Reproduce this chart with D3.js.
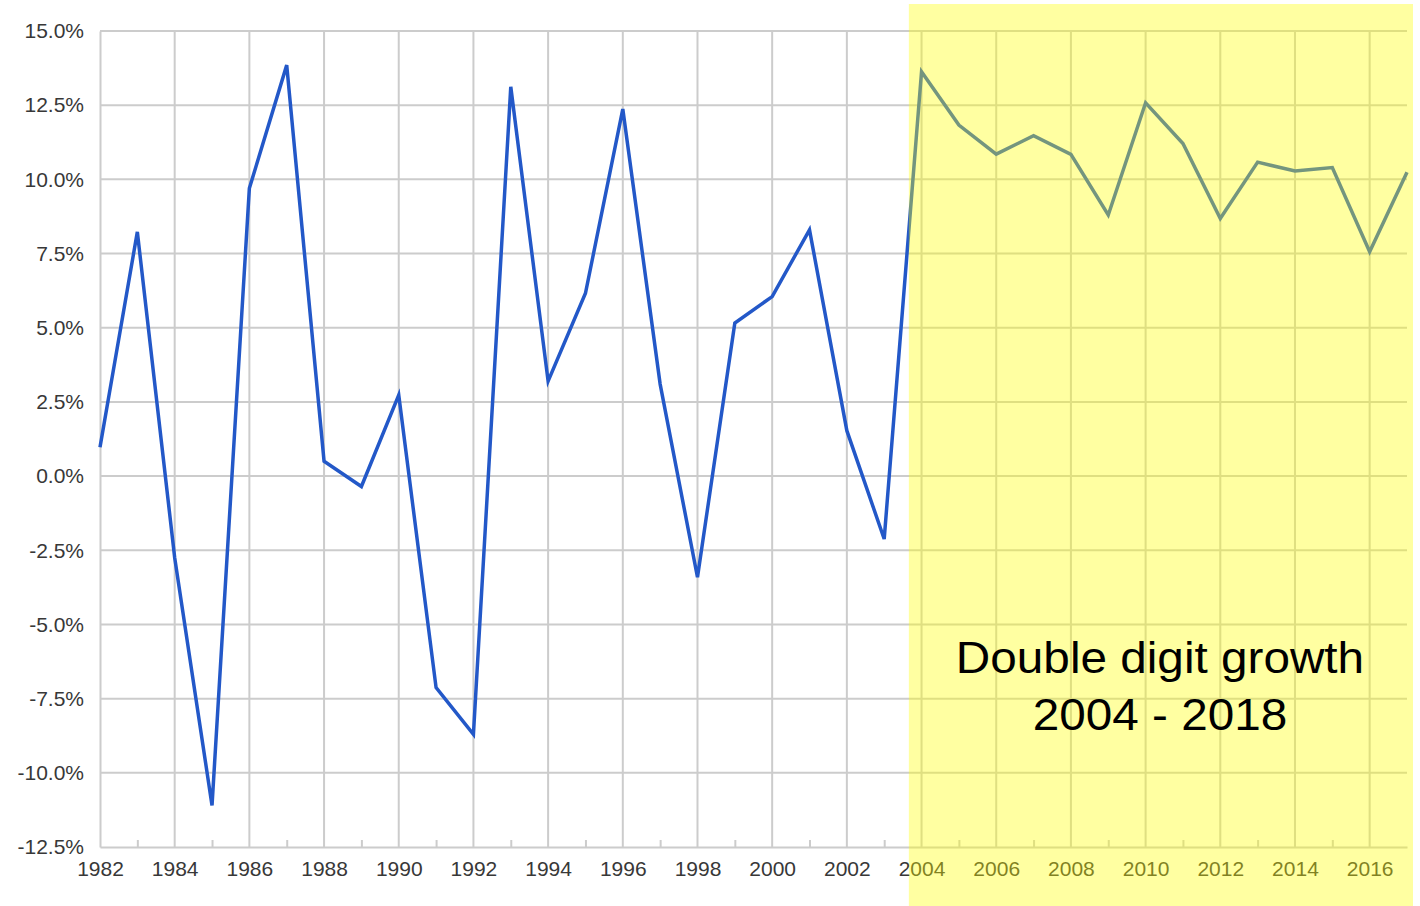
<!DOCTYPE html>
<html>
<head>
<meta charset="utf-8">
<script src="https://cdn.jsdelivr.net/npm/d3@7"></script>
<style>
  body { margin: 0; background: #fff; }
  text { font-family: "Liberation Sans", Arial, sans-serif; }
</style>
</head>
<body>
<div id="chart"></div>
<script>
// yearly growth, %
var years = [1982, 1983, 1984, 1985, 1986, 1987, 1988, 1989, 1990, 1991, 1992, 1993,
    1994, 1995, 1996, 1997, 1998, 1999, 2000, 2001, 2002, 2003, 2004, 2005,
    2006, 2007, 2008, 2009, 2010, 2011, 2012, 2013, 2014, 2015, 2016, 2017];
var growth = [0.97, 8.23, -2.75, -11.1, 9.7, 13.85, 0.5, -0.35, 2.73, -7.13, -8.7, 13.12,
    3.2, 6.16, 12.37, 3.1, -3.41, 5.16, 6.05, 8.3, 1.53, -2.12, 13.63, 11.83,
    10.85, 11.47, 10.84, 8.8, 12.58, 11.21, 8.68, 10.58, 10.28, 10.4, 7.56, 10.24];
var yTicks = [-12.5, -10, -7.5, -5, -2.5, 0, 2.5, 5, 7.5, 10, 12.5, 15];
var xTicks = [1982, 1984, 1986, 1988, 1990, 1992, 1994, 1996, 1998, 2000, 2002, 2004,
    2006, 2008, 2010, 2012, 2014, 2016];
var minorTicks = [1983, 1985, 1987, 1989, 1991, 1993, 1995, 1997, 1999, 2001, 2003,
    2005, 2007, 2009, 2011, 2013, 2015];
var highlightStart = 2003.66;
var noteLines = ["Double digit growth", "2004 - 2018"];

var width = 1420;
var height = 906;
var plotLeft = 100, plotRight = 1407, plotTop = 31, plotBottom = 847;

var svg = d3.select('#chart')
    .append('svg')
    .attr('width', width)
    .attr('height', height);

var x = d3.scaleLinear().domain([1982, 2017]).range([plotLeft, plotRight]);
var y = d3.scaleLinear().domain([-12.5, 15]).range([plotBottom, plotTop]);

var gridColor = '#cccccc';

// horizontal grid
svg.append('g')
    .selectAll('line')
    .data(yTicks.filter(function(d) { return d > -12.5; }))
    .enter()
    .append('line')
    .attr('x1', plotLeft)
    .attr('x2', plotRight)
    .attr('y1', function(d) { return y(d); })
    .attr('y2', function(d) { return y(d); })
    .attr('stroke', gridColor)
    .attr('stroke-width', 2);

// vertical grid
svg.append('g')
    .selectAll('line')
    .data(xTicks.filter(function(d) { return d > 1982; }))
    .enter()
    .append('line')
    .attr('x1', function(d) { return x(d); })
    .attr('x2', function(d) { return x(d); })
    .attr('y1', plotTop)
    .attr('y2', plotBottom)
    .attr('stroke', gridColor)
    .attr('stroke-width', 2);

// y axis
var yAxis = svg.append('g')
    .attr('transform', 'translate(' + plotLeft + ',0)')
    .call(d3.axisLeft(y)
        .tickValues(yTicks)
        .tickSize(0)
        .tickPadding(16)
        .tickFormat(function(d) { return d.toFixed(1) + '%'; }));
yAxis.select('.domain').attr('stroke', gridColor).attr('stroke-width', 2);
yAxis.selectAll('text')
    .attr('fill', '#383838')
    .style('font-size', '21px');

// x axis
var xAxis = svg.append('g')
    .attr('transform', 'translate(0,' + plotBottom + ')')
    .call(d3.axisBottom(x)
        .tickValues(xTicks)
        .tickSize(0)
        .tickPadding(14)
        .tickFormat(d3.format('d')));
xAxis.select('.domain').attr('stroke', gridColor).attr('stroke-width', 2);
xAxis.selectAll('text')
    .attr('fill', '#383838')
    .style('font-size', '21px');

// minor ticks on odd years
var minor = svg.append('g')
    .attr('transform', 'translate(0,' + plotBottom + ')')
    .call(d3.axisBottom(x)
        .tickValues(minorTicks)
        .tickSize(-7)
        .tickFormat(''));
minor.select('.domain').remove();
minor.selectAll('line').attr('stroke', gridColor).attr('stroke-width', 2);

// growth line
var line = d3.line()
    .x(function(d, i) { return x(years[i]); })
    .y(function(d) { return y(d); });

svg.append('path')
    .datum(growth)
    .attr('d', line)
    .attr('fill', 'none')
    .attr('stroke', '#2358c8')
    .attr('stroke-width', 3.5)
    .attr('stroke-linejoin', 'miter');

// highlight box over the later years
var boxLeft = x(highlightStart);
svg.append('rect')
    .attr('x', boxLeft)
    .attr('y', 4)
    .attr('width', 1413 - boxLeft)
    .attr('height', height - 4)
    .attr('fill', '#ffff00')
    .attr('opacity', 0.37);

svg.append('g')
    .attr('transform', 'translate(1160,0) scale(1.06,1)')
    .selectAll('text')
    .data(noteLines)
    .enter()
    .append('text')
    .attr('x', 0)
    .attr('y', function(d, i) { return 673 + i * 57; })
    .attr('text-anchor', 'middle')
    .attr('fill', '#000')
    .style('font-size', '45px')
    .text(function(d) { return d; });
</script>
</body>
</html>
